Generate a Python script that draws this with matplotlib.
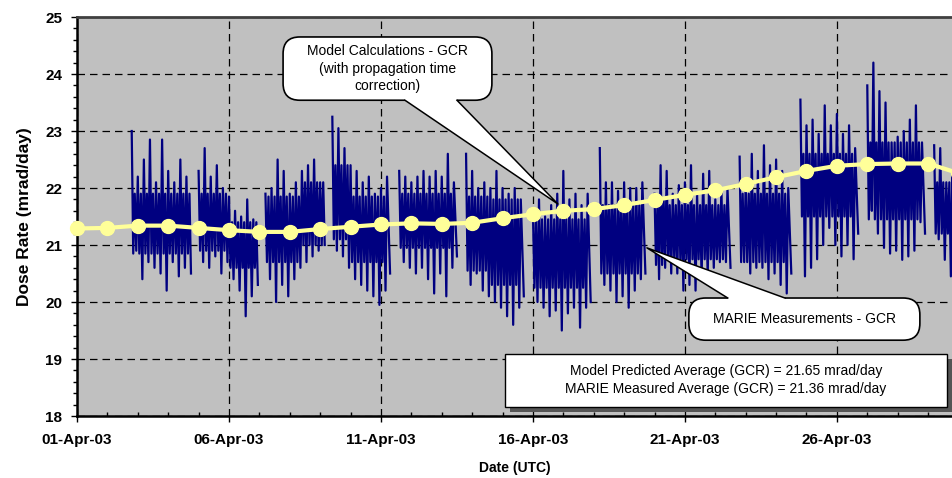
import matplotlib
matplotlib.use('Agg')
import matplotlib.pyplot as plt
import numpy as np
from matplotlib.patches import FancyBboxPatch, Polygon, Rectangle
from matplotlib.ticker import MultipleLocator

plt.rcParams['font.family'] = ['Liberation Sans', 'DejaVu Sans']

# model (daily, days after 01-Apr-03)
model_day = list(range(30))
model_rate = [21.29, 21.30, 21.34, 21.34, 21.30, 21.26, 21.23, 21.23, 21.28, 21.32,
              21.36, 21.38, 21.37, 21.39, 21.47, 21.54, 21.60, 21.63, 21.70, 21.79,
              21.88, 21.96, 22.07, 22.19, 22.30, 22.39, 22.42, 22.43, 22.43, 22.26]

# MARIE measurements: peak / trough read every 0.2 day starting at day 1.8 (None = data gap)
meas_start = 1.8
meas_step = 0.2
meas_hi = [23.0,
           22.2, 22.5, 22.85, 22.1, 22.85,
           22.3, 22.1, 22.5, 22.2, None,
           22.3, 22.7, 22.2, 22.4, 22.0,
           21.85, 21.6, 21.5, 21.8, 21.45,
           None, 21.9, 22.0, 22.5, 22.3,
           21.9, 22.1, 22.3, 22.4, 22.5,
           22.1, None, 23.25, 23.05, 22.7,
           22.4, 22.3, 22.1, 22.2, 21.9,
           22.0, 22.2, None, 22.3, 22.2,
           22.1, 22.2, 22.3, 22.2, 22.3,
           22.2, 22.6, 22.1, None, 22.6,
           22.3, 22.0, 22.1, 22.0, 22.3,
           22.0, 21.9, 22.0, 21.8, None,
           21.6, 21.8, 21.5, 21.7, 21.9,
           22.3, 21.8, 21.9, 21.7, 21.9,
           None, 22.7, 22.1, 22.1, 21.95,
           22.1, 22.0, 22.0, 22.1, None,
           21.9, 22.4, 22.3, 21.9, 22.05,
           22.1, 22.4, 21.9, 22.25, 22.3,
           21.8, 22.0, 22.0, None, 22.55,
           22.1, 22.6, 22.3, 22.75, 22.4,
           22.5, 22.3, 22.0, None, 23.55,
           23.1, 23.2, 22.95, 23.45, 23.1,
           23.3, 22.95, 23.1, 22.7, None,
           23.8, 24.2, 23.7, 23.5, 22.8,
           22.9, 23.0, 23.2, 23.45, 22.8,
           None, 22.75, 22.7, 22.1, 22.3]
meas_lo = [20.9,
           20.4, 20.7, 20.6, 20.5, 20.2,
           20.7, 20.45, 20.6, 20.5, None,
           20.7, 20.6, 20.8, 20.5, 20.7,
           20.4, 20.2, 19.75, 20.1, 20.3,
           None, 20.4, 20.0, 20.3, 20.1,
           20.4, 20.6, 20.7, 20.8, 20.9,
           21.0, None, 20.9, 20.8, 20.6,
           20.4, 20.3, 20.2, 20.1, 19.95,
           20.2, 20.5, None, 20.7, 20.6,
           20.5, 20.6, 20.4, 20.15, 20.5,
           20.1, 20.6, 20.8, None, 20.3,
           20.5, 20.2, 20.1, 20.0, 19.9,
           19.75, 19.6, 19.9, 20.1, None,
           20.0, 19.9, 19.75, 19.85, 19.5,
           19.8, 19.9, 19.55, 19.9, 20.0,
           None, 20.3, 20.2, 20.0, 20.1,
           19.9, 20.2, 20.4, 20.5, None,
           20.4, 20.6, 20.5, 20.5, 20.2,
           20.3, 20.2, 20.4, 20.45, 20.6,
           20.7, 20.7, 20.6, None, 20.7,
           20.5, 20.6, 20.6, 20.4, 20.5,
           20.3, 20.15, 20.5, None, 20.45,
           20.6, 20.75, 21.0, 21.3, 21.0,
           20.8, 21.0, 20.75, 21.2, None,
           21.6, 21.2, 20.95, 20.85, 20.9,
           20.74, 20.8, 20.9, 21.4, 21.2,
           None, 21.1, 20.74, 20.45, 20.8]

# typical (non-spike) upper / lower level of the band, from each day to the next entry
core_day = [1.72, 3.8, 3.96, 4.98, 5.95, 6.18, 7.4, 8.15, 8.26, 9.0, 10.3, 10.55,
            12.47, 12.7, 13.7, 14.7, 14.93, 16.9, 17.2, 18.65, 18.8, 19.5, 21.5,
            21.6, 23.4, 23.75, 25.65, 25.85, 27.8, 28.05, 28.9]
core_top = [21.9, None, 21.9, 21.4, None, 21.85, 22.1, None, 22.4, 21.85, None, 21.9,
            None, 21.85, 21.8, None, 21.45, None, 21.7, None, 21.8, 21.7, None,
            21.9, None, 22.6, None, 22.8, None, 22.1]
core_bot = [20.85, None, 20.9, 20.6, None, 20.7, 21.0, None, 21.1, 20.7, None, 20.95,
            None, 20.55, 20.3, None, 20.25, None, 20.5, None, 20.65, 20.75, None,
            20.7, None, 21.5, None, 21.45, None, 21.2]

tick_days = [0, 5, 10, 15, 20, 25]
tick_labels = ['01-Apr-03', '06-Apr-03', '11-Apr-03', '16-Apr-03', '21-Apr-03', '26-Apr-03']

model_avg = 21.65
meas_avg = 21.36

navy = '#000080'


def core_at(t):
    for j in range(len(core_top)):
        if core_day[j] <= t < core_day[j + 1] and core_top[j] is not None:
            return core_top[j], core_bot[j]
    return None


# trace: peak, typical low, typical high, trough within each 0.2-day cell
mx, my = [], []
for i in range(len(meas_hi)):
    t = meas_start + i * meas_step
    if meas_hi[i] is None:
        mx.append(np.nan)
        my.append(np.nan)
        continue
    c = core_at(t + 0.1)
    if c is None:
        mx += [t, t + 0.1]
        my += [meas_hi[i], meas_lo[i]]
    else:
        mx += [t, t + 0.05, t + 0.1, t + 0.15]
        my += [meas_hi[i], c[1], c[0], meas_lo[i]]

fig = plt.figure(figsize=(9.53, 4.78), dpi=100)
ax = fig.add_axes([0.0808, 0.1297, 0.9192, 0.8347])
ax.set_facecolor('#C0C0C0')

ax.plot(mx, my, color=navy, lw=1.6, zorder=2)
ax.plot(model_day, model_rate, color='#FFFF99', lw=3, marker='o', ms=10,
        mec='#FFFF99', zorder=3, clip_on=False)

ax.set_xlim(0, 28.82)
ax.set_ylim(18, 25)
ax.set_xticks(tick_days)
ax.set_xticklabels(tick_labels)
ax.xaxis.set_minor_locator(MultipleLocator(1))
ax.yaxis.set_major_locator(MultipleLocator(1))
ax.yaxis.set_minor_locator(MultipleLocator(0.2))
ax.tick_params(axis='x', which='major', direction='out', length=4.5, width=1, pad=8)
ax.tick_params(axis='x', which='minor', direction='in', length=3, width=1)
ax.tick_params(axis='y', which='major', direction='out', length=4.5, width=1, pad=6)
ax.tick_params(axis='y', which='minor', direction='out', length=3, width=1)
for lab in ax.get_xticklabels() + ax.get_yticklabels():
    lab.set_fontweight('bold')
    lab.set_fontsize(11)

ax.grid(True, which='major', color='black', ls=(0, (6, 4)), lw=0.9)
ax.set_axisbelow(True)

ax.spines['left'].set_linewidth(1.8)
ax.spines['bottom'].set_linewidth(1.8)
ax.spines['top'].set_linewidth(2)
ax.spines['top'].set_color('#404040')
ax.spines['right'].set_visible(False)

ax.set_ylabel('Dose Rate (mrad/day)', fontsize=12.5, fontweight='bold', labelpad=10)
ax.set_xlabel('Date (UTC)', fontsize=10, fontweight='bold', labelpad=10)

asp = 30.4 / 57.0


def callout(x0, x1, y0, y1, base_a, base_b, tip, text):
    box = FancyBboxPatch((x0, y0), x1 - x0, y1 - y0,
                         boxstyle='round,pad=0,rounding_size=0.55', mutation_aspect=asp,
                         fc='white', ec='black', lw=1.2, zorder=5)
    ax.add_patch(box)
    yb = base_a[1]
    inner = yb + (0.12 if tip[1] < yb else -0.12)
    tail = Polygon([(base_a[0], inner), base_a, tip, base_b, (base_b[0], inner)],
                   closed=True, fc='white', ec='none', zorder=6)
    ax.add_patch(tail)
    ax.plot([base_a[0], tip[0], base_b[0]], [base_a[1], tip[1], base_b[1]],
            color='black', lw=1.1, zorder=7)
    ax.text((x0 + x1) / 2, (y0 + y1) / 2, text, ha='center', va='center',
            fontsize=10, zorder=8, linespacing=1.35)


callout(6.78, 13.65, 23.54, 24.65, (10.79, 23.54), (12.5, 23.54), (15.82, 21.72),
        'Model Calculations - GCR\n(with propagation time\ncorrection)')
callout(20.13, 27.73, 19.33, 20.07, (21.41, 20.07), (23.29, 20.07), (18.75, 20.95),
        'MARIE Measurements - GCR')

# stats box with shadow
ax.add_patch(Rectangle((14.25, 18.07), 14.54, 0.93, fc='#555555', ec='none', zorder=5))
ax.add_patch(Rectangle((14.08, 18.16), 14.54, 0.93, fc='white', ec='black', lw=1, zorder=6))
ax.text(21.35, 18.625,
        'Model Predicted Average (GCR) = %.2f mrad/day\nMARIE Measured Average (GCR) = %.2f mrad/day'
        % (model_avg, meas_avg),
        ha='center', va='center', fontsize=10, zorder=7, linespacing=1.35)

fig.savefig('out.png', dpi=100)
